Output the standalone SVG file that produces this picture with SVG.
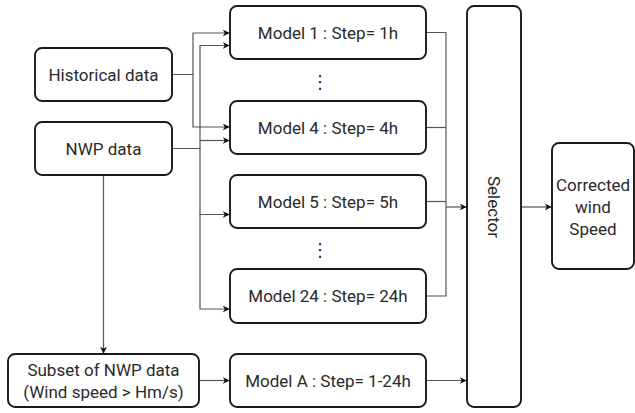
<svg xmlns="http://www.w3.org/2000/svg" width="635" height="413" viewBox="0 0 635 413">
<style>
.box{fill:#fff;stroke:#1a1a1a;stroke-width:1.9}
.t{font-family:Roboto,"Liberation Sans",sans-serif;font-size:17px;fill:#2a2a2a;text-anchor:middle;dominant-baseline:central}
.c{fill:none;stroke:#555;stroke-width:1.2}
.dots{font-family:"DejaVu Sans",sans-serif;font-size:18px;fill:#222;text-anchor:middle;dominant-baseline:central}
</style>
<defs>
<marker id="ah" viewBox="0 0 10 10" refX="9" refY="5" markerWidth="7" markerHeight="7" markerUnits="userSpaceOnUse" orient="auto">
<path d="M0,0 L10,5 L0,10 L3,5 Z" fill="#111"/>
</marker>
</defs>
<rect width="635" height="413" fill="#fff"/>
<g id="connectors">
<path class="c" d="M172,74.5 H193 V33 H229" marker-end="url(#ah)"/>
<path class="c" d="M193,74.5 V127 H229" marker-end="url(#ah)"/>
<path class="c" d="M172,148.5 H200 V45.5 H229" marker-end="url(#ah)"/>
<path class="c" d="M200,140.5 H229" marker-end="url(#ah)"/>
<path class="c" d="M200,148 V214.5 H229" marker-end="url(#ah)"/>
<path class="c" d="M200,214 V309 H229" marker-end="url(#ah)"/>
<path class="c" d="M103.5,175 V353" marker-end="url(#ah)"/>
<path class="c" d="M199,380.5 H229" marker-end="url(#ah)"/>
<path class="c" d="M426,32.5 H446 V296 H426"/>
<path class="c" d="M426,127.5 H446"/>
<path class="c" d="M426,201.5 H446"/>
<path class="c" d="M446,207 H466" marker-end="url(#ah)"/>
<path class="c" d="M426,380.5 H466" marker-end="url(#ah)"/>
<path class="c" d="M521,207 H551" marker-end="url(#ah)"/>
</g>
<g id="historical"><rect class="box" x="35" y="48" width="137" height="53" rx="7"/><text class="t" x="103.5" y="74.5">Historical data</text></g>
<g id="nwp"><rect class="box" x="35" y="122" width="137" height="53" rx="7"/><text class="t" x="103.5" y="148.5">NWP data</text></g>
<g id="subset"><rect class="box" x="8" y="354" width="191" height="53" rx="7"/><text class="t" x="103.5" y="369.5">Subset of NWP data</text><text class="t" x="103.5" y="391.5">(Wind speed &gt; Hm/s)</text></g>
<g id="model1"><rect class="box" x="230" y="6" width="196" height="53" rx="7"/><text class="t" x="328" y="32.5">Model 1 : Step= 1h</text></g>
<g id="dots1"><text class="dots" x="320" y="81">⋮</text></g>
<g id="model4"><rect class="box" x="230" y="101" width="196" height="53" rx="7"/><text class="t" x="328" y="127.5">Model 4 : Step= 4h</text></g>
<g id="model5"><rect class="box" x="230" y="175" width="196" height="53" rx="7"/><text class="t" x="328" y="201.5">Model 5 : Step= 5h</text></g>
<g id="dots2"><text class="dots" x="320" y="249">⋮</text></g>
<g id="model24"><rect class="box" x="230" y="269" width="196" height="54" rx="7"/><text class="t" x="328" y="296">Model 24 : Step= 24h</text></g>
<g id="modelA"><rect class="box" x="230" y="354" width="196" height="53" rx="7"/><text class="t" x="328" y="380.5">Model A : Step= 1-24h</text></g>
<g id="selector"><rect class="box" x="467" y="6" width="54" height="401" rx="7"/><text class="t" transform="translate(494,207) rotate(90)" x="0" y="0">Selector</text></g>
<g id="corrected"><rect class="box" x="552" y="143" width="82" height="126" rx="7"/><text class="t" x="593" y="185">Corrected</text><text class="t" x="593" y="207">wind</text><text class="t" x="593" y="229">Speed</text></g>
</svg>
